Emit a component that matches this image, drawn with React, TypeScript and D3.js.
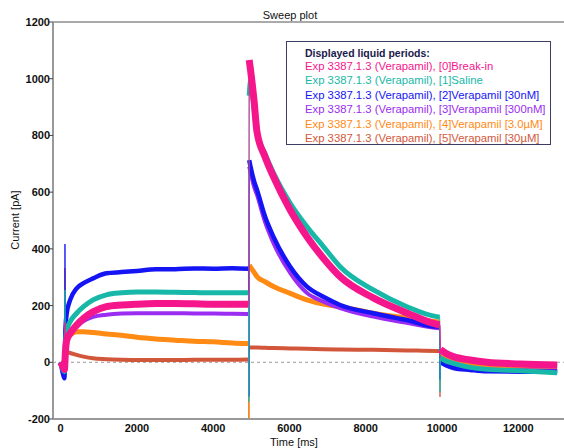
import React from "react";
import * as d3 from "d3";

const TIME_MS = [0, 60, 100, 114, 125, 160, 250, 420, 600, 850, 1200, 1600, 2000, 2500, 3000, 3500, 4000, 4500, 4925, 4935, 4945, 4980, 5070, 5150, 5360, 5580, 6020, 6460, 6890, 7330, 8200, 9080, 9860, 9940, 9948, 9960, 10100, 10300, 10740, 11180, 12050, 13020];

const BREAK_IN = [0, -15, -25, 140, 35, 79, 102, 131, 155, 178, 196, 202, 205, 207, 207, 206, 205, 205, 205, 205, 1066, 1031, 925, 812, 725, 655, 537, 443, 367, 302, 227, 174, 134, 132, 132, 45, 32, 20, 8, 0, -6, -10];
const SALINE = [0, -25, -33, 255, 60, 114, 143, 173, 196, 220, 238, 245, 248, 248, 247, 246, 245, 245, 245, -140, 940, 990, 900, 812, 735, 668, 561, 478, 408, 337, 255, 196, 161, 160, -105, 15, 5, -4, -18, -25, -30, -37];
const VERA_30NM = [0, -40, -56, 417, 110, 173, 220, 261, 279, 296, 314, 318, 322, 328, 328, 331, 330, 332, 330, -120, 713, 690, 640, 608, 514, 443, 337, 267, 231, 202, 173, 149, 126, 126, -60, 0, -10, -20, -27, -32, -33, -33];
const VERA_300NM = [0, -15, -20, 150, 40, 75, 100, 125, 145, 160, 168, 172, 173, 173, 173, 172, 172, 171, 170, -120, 690, 670, 620, 590, 495, 421, 315, 244, 214, 191, 161, 139, 121, 120, -60, 10, 0, -10, -20, -25, -28, -30];
const VERA_3UM = [0, -10, -15, 200, 20, 66, 96, 108, 108, 105, 100, 95, 88, 82, 78, 74, 72, 68, 66, -200, 343, 335, 318, 302, 284, 267, 243, 220, 205, 196, 173, 156, 143, 142, -60, 25, 15, 5, -8, -13, -18, -20];
const VERA_30UM = [0, -5, -10, 332, 15, 35, 33, 26, 20, 14, 11, 9, 8, 8, 8, 9, 9, 9, 10, -210, 55, 52, 52, 52, 51, 50, 49, 48, 46, 45, 44, 42, 40, 40, -122, 25, 15, 8, 0, -4, -8, -10];

const LEGEND_TITLE = "Displayed liquid periods:";
const SERIES_LABELS = [
  "Exp 3387.1.3 (Verapamil), [0]Break-in",
  "Exp 3387.1.3 (Verapamil), [1]Saline",
  "Exp 3387.1.3 (Verapamil), [2]Verapamil [30nM]",
  "Exp 3387.1.3 (Verapamil), [3]Verapamil [300nM]",
  "Exp 3387.1.3 (Verapamil), [4]Verapamil [3.0\u00b5M]",
  "Exp 3387.1.3 (Verapamil), [5]Verapamil [30\u00b5M]",
];
const SERIES_VALUES = [BREAK_IN, SALINE, VERA_30NM, VERA_300NM, VERA_3UM, VERA_30UM];
const SERIES_COLORS = ["#f5168c", "#18b8a8", "#1414f5", "#9b2cf2", "#ff8a14", "#d2573a"];
const SERIES_WIDTHS = [7, 5, 4.5, 4, 5, 4];

const X_TICKS = [0, 2000, 4000, 6000, 8000, 10000, 12000];
const Y_TICKS = [-200, 0, 200, 400, 600, 800, 1000, 1200];

// index ranges of the three voltage phases (the spike samples between them are excluded from bands)
const PHASES: [number, number][] = [[0, 18], [20, 33], [35, 41]];
const SPIKE_IDX = 3;

const W = 564;
const H = 448;
const L = 53, R = 564, T = 22, B = 419;
const FONT = "'Liberation Sans', Arial, sans-serif";

export default function App() {
  const x = d3.scaleLinear().domain([-200, 13200]).range([L, R]);
  const y = d3.scaleLinear().domain([-200, 1200]).range([B, T]);

  const thin = d3
    .line<number>()
    .x((_, i) => x(TIME_MS[i]))
    .y((v) => y(v));

  const band = d3
    .line<[number, number]>()
    .x((d) => x(d[0]))
    .y((d) => y(d[1]))
    .curve(d3.curveMonotoneX);

  const order = [5, 4, 3, 2, 1, 0];

  return (
    <svg width={W} height={H} style={{ position: "absolute", left: 0, top: 0, background: "#fff" }} fontFamily={FONT}>
      <defs>
        <clipPath id="plotclip">
          <rect x={L} y={T} width={R - L} height={B - T} />
        </clipPath>
      </defs>
      <rect x={0} y={0} width={W} height={H} fill="#fff" />

      {/* zero line */}
      <line x1={L} x2={R} y1={y(0)} y2={y(0)} stroke="#9a9a9a" strokeWidth={1} strokeDasharray="3,3" />

      <g clipPath="url(#plotclip)">
        {order.map((s) => {
          const vals = SERIES_VALUES[s];
          return (
            <g key={s}>
              <path d={thin(vals) || ""} fill="none" stroke={SERIES_COLORS[s]} strokeWidth={1} opacity={0.9} />
              {PHASES.map(([a, b], pi) => {
                const pts: [number, number][] = [];
                for (let i = a; i <= b; i++) {
                  if (i === SPIKE_IDX) continue;
                  pts.push([TIME_MS[i], vals[i]]);
                }
                return (
                  <path
                    key={pi}
                    d={band(pts) || ""}
                    fill="none"
                    stroke={SERIES_COLORS[s]}
                    strokeWidth={SERIES_WIDTHS[s]}
                    strokeLinejoin="round"
                  />
                );
              })}
            </g>
          );
        })}
      </g>

      {/* axes */}
      <line x1={L} x2={R} y1={T} y2={T} stroke="#555" strokeWidth={1} />
      <line x1={L} x2={L} y1={T} y2={B} stroke="#999" strokeWidth={2} />
      <line x1={L} x2={R} y1={B} y2={B} stroke="#999" strokeWidth={2} />

      {Y_TICKS.map((v) => (
        <g key={v}>
          <line x1={L - 4} x2={L} y1={y(v)} y2={y(v)} stroke="#444" strokeWidth={1} />
          <text x={L - 3} y={y(v) + 4} textAnchor="end" fontSize={11} fontWeight="bold" fill="#111">
            {v}
          </text>
        </g>
      ))}
      {X_TICKS.map((v) => (
        <g key={v}>
          <text x={x(v)} y={432} textAnchor="middle" fontSize={11} fontWeight="bold" fill="#111">
            {v}
          </text>
        </g>
      ))}

      <text x={290} y={19} textAnchor="middle" fontSize={11} fill="#111">
        Sweep plot
      </text>
      <text x={294} y={446} textAnchor="middle" fontSize={11} fill="#111">
        Time [ms]
      </text>
      <text transform={`translate(19,220) rotate(-90)`} textAnchor="middle" fontSize={11} fill="#111">
        Current [pA]
      </text>

      {/* legend */}
      <rect x={286.5} y={41.5} width={264} height={103} fill="#fff" stroke="#3c3c64" strokeWidth={1} />
      <text x={305} y={57} fontSize={10.5} fontWeight="bold" fill="#1a1a4a">
        {LEGEND_TITLE}
      </text>
      {SERIES_LABELS.map((lab, i) => (
        <text key={i} x={305} y={70 + i * 14.4} fontSize={11.3} fill={SERIES_COLORS[i]}>
          {lab}
        </text>
      ))}
    </svg>
  );
}
